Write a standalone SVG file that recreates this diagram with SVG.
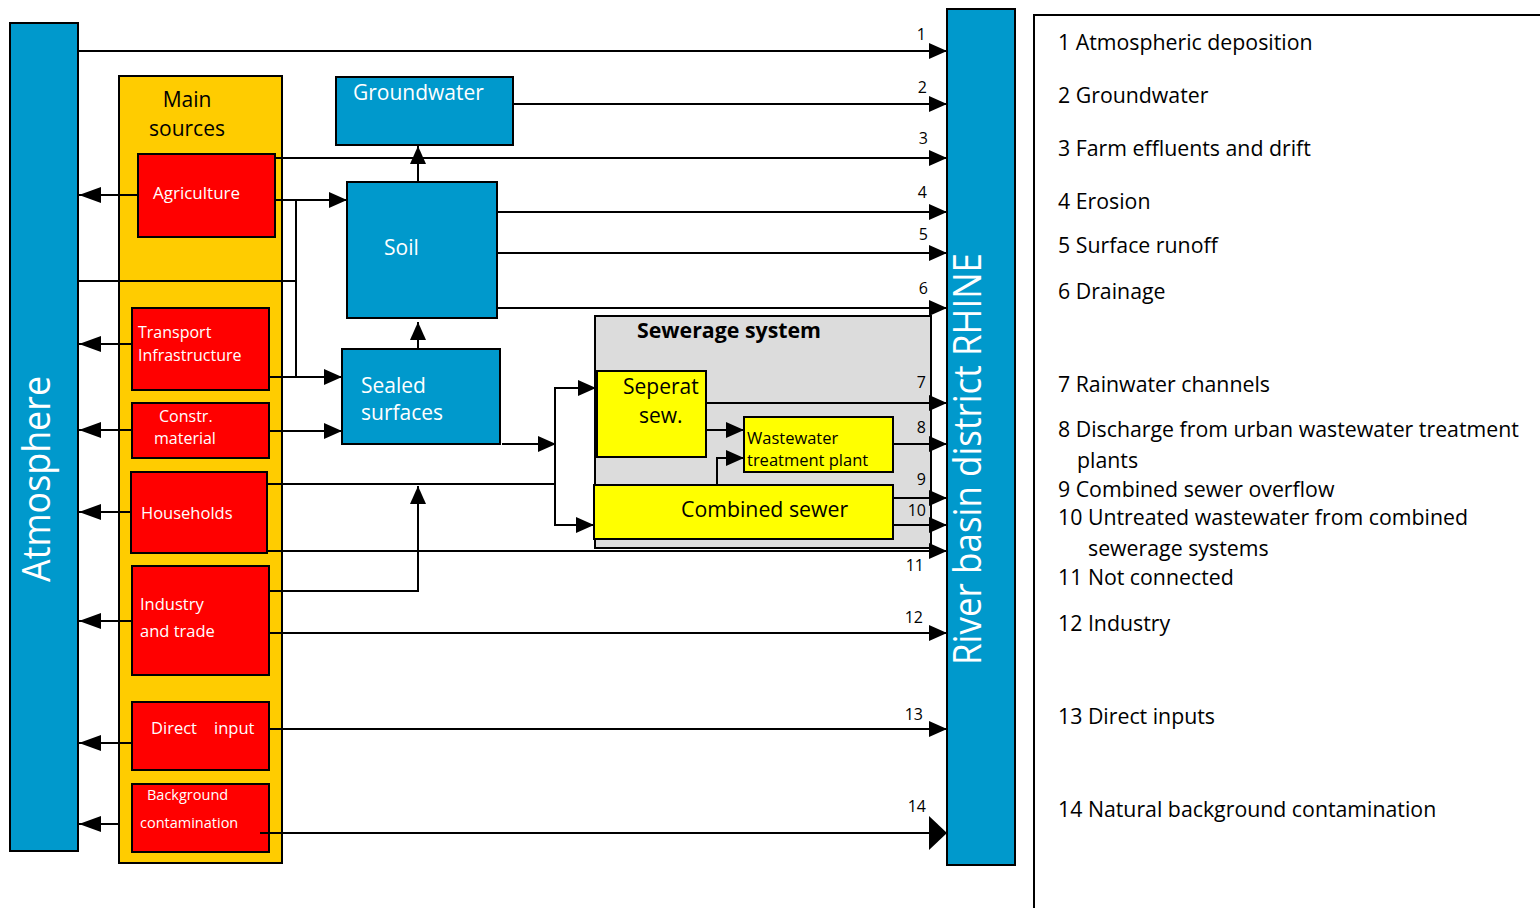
<svg xmlns="http://www.w3.org/2000/svg" width="1540" height="908" viewBox="0 0 1540 908">
<style>
text{font-family:"Open Sans","Noto Sans","Liberation Sans",sans-serif}
.bx{stroke:#000;stroke-width:2}
.blue{fill:#0099cc}
.org{fill:#ffcc00}
.red{fill:#ff0000}
.yel{fill:#ffff00}
.gry{fill:#dcdcdc}
.w{fill:#fff}
.k{fill:#000}
.ln{fill:none;stroke:#000;stroke-width:2}
.num{font-size:16px;text-anchor:end}
.lg{font-size:21.3px}
</style>
<defs>
<marker id="a" markerUnits="userSpaceOnUse" markerWidth="18" markerHeight="16" refX="18" refY="8" orient="auto"><path d="M0,0L18,8L0,16z" fill="#000"/></marker>
<marker id="aL" markerUnits="userSpaceOnUse" markerWidth="22" markerHeight="16" refX="22" refY="8" orient="auto"><path d="M0,0L22,8L0,16z" fill="#000"/></marker>
<marker id="aB" markerUnits="userSpaceOnUse" markerWidth="18" markerHeight="34" refX="18" refY="17" orient="auto"><path d="M0,0L18,17L0,34z" fill="#000"/></marker>
</defs>

<g id="atmosphere">
<rect class="bx blue" x="10" y="23" width="68" height="828"/>
<text class="w" font-size="38" transform="translate(50,582) rotate(-90)" textLength="206" lengthAdjust="spacingAndGlyphs">Atmosphere</text>
</g>

<g id="river">
<rect class="bx blue" x="947" y="9" width="68" height="856"/>
<text class="w" font-size="38" transform="translate(981,665) rotate(-90)" textLength="412" lengthAdjust="spacingAndGlyphs">River basin district RHINE</text>
</g>

<g id="legend">
<path class="ln" d="M1034,908V15H1540"/>
<text class="lg" x="1058" y="50">1 Atmospheric deposition</text>
<text class="lg" x="1058" y="103">2 Groundwater</text>
<text class="lg" x="1058" y="156">3 Farm effluents and drift</text>
<text class="lg" x="1058" y="209">4 Erosion</text>
<text class="lg" x="1058" y="253">5 Surface runoff</text>
<text class="lg" x="1058" y="299">6 Drainage</text>
<text class="lg" x="1058" y="392">7 Rainwater channels</text>
<text class="lg" x="1058" y="437">8 Discharge from urban wastewater treatment</text>
<text class="lg" x="1077" y="468">plants</text>
<text class="lg" x="1058" y="497">9 Combined sewer overflow</text>
<text class="lg" x="1058" y="525">10 Untreated wastewater from combined</text>
<text class="lg" x="1088" y="556">sewerage systems</text>
<text class="lg" x="1058" y="585">11 Not connected</text>
<text class="lg" x="1058" y="631">12 Industry</text>
<text class="lg" x="1058" y="724">13 Direct inputs</text>
<text class="lg" x="1058" y="817">14 Natural background contamination</text>
</g>

<g id="main-sources">
<rect class="bx org" x="119" y="76" width="163" height="787"/>
<text class="k" font-size="21" x="187" y="107" text-anchor="middle">Main</text>
<text class="k" font-size="21" x="187" y="136" text-anchor="middle">sources</text>
</g>

<g id="agriculture">
<rect class="bx red" x="138" y="154" width="137" height="83"/>
<text class="w" font-size="17" x="153" y="199">Agriculture</text>
</g>
<g id="transport">
<rect class="bx red" x="132" y="308" width="137" height="82"/>
<text class="w" font-size="16" x="138" y="338">Transport</text>
<text class="w" font-size="16" x="138" y="361">Infrastructure</text>
</g>
<g id="constr">
<rect class="bx red" x="132" y="403" width="137" height="55"/>
<text class="w" font-size="16" x="159" y="422">Constr.</text>
<text class="w" font-size="16" x="154" y="444">material</text>
</g>
<g id="households">
<rect class="bx red" x="131" y="472" width="136" height="81"/>
<text class="w" font-size="16.5" x="141" y="519">Households</text>
</g>
<g id="industry">
<rect class="bx red" x="132" y="566" width="137" height="109"/>
<text class="w" font-size="16.5" x="140" y="610">Industry</text>
<text class="w" font-size="16.5" x="140" y="637">and trade</text>
</g>
<g id="direct">
<rect class="bx red" x="132" y="702" width="137" height="68"/>
<text class="w" font-size="16.5" x="151" y="734">Direct</text>
<text class="w" font-size="16.5" x="214" y="734">input</text>
</g>
<g id="background">
<rect class="bx red" x="132" y="784" width="137" height="68"/>
<text class="w" font-size="14.5" x="147" y="800">Background</text>
<text class="w" font-size="14.5" x="140" y="828">contamination</text>
</g>

<g id="groundwater">
<rect class="bx blue" x="336" y="77" width="177" height="68"/>
<text class="w" font-size="21" x="353" y="100">Groundwater</text>
</g>
<g id="soil">
<rect class="bx blue" x="347" y="182" width="150" height="136"/>
<text class="w" font-size="21" x="384" y="255">Soil</text>
</g>
<g id="sealed">
<rect class="bx blue" x="342" y="349" width="158" height="95"/>
<text class="w" font-size="21" x="361" y="393">Sealed</text>
<text class="w" font-size="21" x="361" y="420">surfaces</text>
</g>

<g id="sewerage">
<rect class="bx gry" x="595" y="316" width="336" height="232"/>
<text class="k" font-size="20.5" font-weight="bold" x="637" y="338" textLength="184" lengthAdjust="spacingAndGlyphs">Sewerage system</text>
</g>
<g id="seperat">
<rect class="bx yel" x="597" y="371" width="109" height="86"/>
<text class="k" font-size="21" x="623" y="394">Seperat</text>
<text class="k" font-size="21" x="639" y="423">sew.</text>
</g>
<g id="wwtp">
<rect class="bx yel" x="744" y="417" width="149" height="55"/>
<text class="k" font-size="16.5" x="747" y="444">Wastewater</text>
<text class="k" font-size="16.5" x="747" y="466">treatment plant</text>
</g>
<g id="combined">
<rect class="bx yel" x="594" y="485" width="299" height="54"/>
<text class="k" font-size="21.3" x="681" y="517">Combined sewer</text>
</g>

<g id="connectors">
<path class="ln" d="M78,51H947" marker-end="url(#a)"/>
<path class="ln" d="M513,104H947" marker-end="url(#a)"/>
<path class="ln" d="M275,158H947" marker-end="url(#a)"/>
<path class="ln" d="M497,212H947" marker-end="url(#a)"/>
<path class="ln" d="M497,253H947" marker-end="url(#a)"/>
<path class="ln" d="M497,308H947" marker-end="url(#a)"/>
<path class="ln" d="M706,403H947" marker-end="url(#a)"/>
<path class="ln" d="M893,444H947" marker-end="url(#a)"/>
<path class="ln" d="M893,498H947" marker-end="url(#a)"/>
<path class="ln" d="M893,525H947" marker-end="url(#a)"/>
<path class="ln" d="M267,551H947" marker-end="url(#a)"/>
<path class="ln" d="M268,633H947" marker-end="url(#a)"/>
<path class="ln" d="M268,729H947" marker-end="url(#a)"/>
<path class="ln" d="M260,833H947" marker-end="url(#aB)"/>

<path class="ln" d="M138,195H79" marker-end="url(#aL)"/>
<path class="ln" d="M132,344H79" marker-end="url(#aL)"/>
<path class="ln" d="M132,430H79" marker-end="url(#aL)"/>
<path class="ln" d="M131,512H79" marker-end="url(#aL)"/>
<path class="ln" d="M132,621H79" marker-end="url(#aL)"/>
<path class="ln" d="M132,743H79" marker-end="url(#aL)"/>
<path class="ln" d="M119,824H79" marker-end="url(#aL)"/>

<path class="ln" d="M78,281H296"/>
<path class="ln" d="M296,200V377"/>
<path class="ln" d="M275,200H347" marker-end="url(#a)"/>
<path class="ln" d="M268,377H342" marker-end="url(#a)"/>
<path class="ln" d="M268,431H342" marker-end="url(#a)"/>
<path class="ln" d="M418,182V146" marker-end="url(#a)"/>
<path class="ln" d="M418,349V322" marker-end="url(#a)"/>
<path class="ln" d="M268,591H418V486" marker-end="url(#a)"/>
<path class="ln" d="M267,484H555"/>
<path class="ln" d="M502,444H556" marker-end="url(#a)"/>
<path class="ln" d="M555,388V526"/>
<path class="ln" d="M554,388H596" marker-end="url(#a)"/>
<path class="ln" d="M554,525H594" marker-end="url(#a)"/>
<path class="ln" d="M706,430H744" marker-end="url(#a)"/>
<path class="ln" d="M717,485V458H744" marker-end="url(#a)"/>

<text class="num" x="926" y="40">1</text>
<text class="num" x="927" y="93">2</text>
<text class="num" x="928" y="144">3</text>
<text class="num" x="927" y="198">4</text>
<text class="num" x="928" y="240">5</text>
<text class="num" x="928" y="294">6</text>
<text class="num" x="926" y="388">7</text>
<text class="num" x="926" y="433">8</text>
<text class="num" x="926" y="485">9</text>
<text class="num" x="926" y="516">10</text>
<text class="num" x="924" y="571">11</text>
<text class="num" x="923" y="623">12</text>
<text class="num" x="923" y="720">13</text>
<text class="num" x="926" y="812">14</text>
</g>
</svg>
